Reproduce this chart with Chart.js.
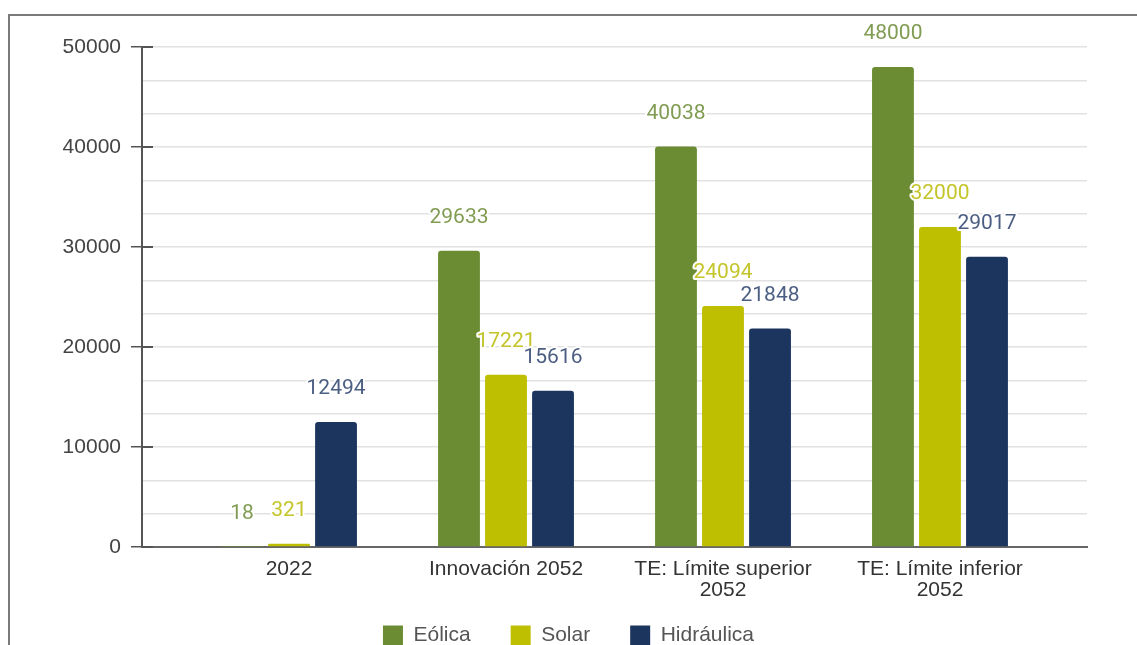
<!DOCTYPE html>
<html>
<head>
<meta charset="utf-8">
<script src="https://cdn.jsdelivr.net/npm/chart.js@4.4.1/dist/chart.umd.min.js"></script>
<style>
html, body { margin: 0; padding: 0; background: #fff; overflow: hidden; width: 1137px; height: 645px; }
#marco { position: absolute; left: 8px; top: 14px; width: 1200px; height: 700px; border-top: 2px solid #7a7a7a; border-left: 2px solid #7a7a7a; }
#grafico { position: absolute; left: 50px; top: 16px; }
</style>
</head>
<body>
<div id="marco"></div>
<canvas id="grafico" width="1087" height="664"></canvas>
<script>
// datos
const categorias = ['2022', 'Innovación 2052', ['TE: Límite superior', '2052'], ['TE: Límite inferior', '2052']];
const eolica = [18, 29633, 40038, 48000];
const solar = [321, 17221, 24094, 32000];
const hidraulica = [12494, 15616, 21848, 29017];
const ticksY = [0, 10000, 20000, 30000, 40000, 50000];

const fuente = { family: '"Liberation Sans", Arial, sans-serif', size: 21 };

// etiquetas de valor encima de cada barra
const etiquetasPlugin = {
    id: 'etiquetas',
    afterLayout(chart) {
        // sube la leyenda para que quede pegada a las etiquetas del eje X
        chart.legend.top -= 24;
        chart.legend.bottom -= 24;
    },
    afterDatasetsDraw(chart) {
        const ctx = chart.ctx;
        ctx.save();
        ctx.font = '21px Roboto';
        ctx.textAlign = 'center';
        ctx.textBaseline = 'middle';
        ctx.lineJoin = 'round';
        chart.data.datasets.forEach((ds, i) => {
            chart.getDatasetMeta(i).data.forEach((barra, j) => {
                const txt = String(ds.data[j]);
                const y = barra.y - 33;
                ctx.strokeStyle = '#fff';
                ctx.lineWidth = 4;
                ctx.strokeText(txt, barra.x, y);
                ctx.fillStyle = ds.colorEtiqueta;
                ctx.fillText(txt, barra.x, y);
            });
        });
        // marcas del eje Y que cruzan hacia dentro
        const ejeY = chart.scales.y;
        ctx.strokeStyle = '#555';
        ctx.lineWidth = 2;
        ticksY.forEach(v => {
            const py = ejeY.getPixelForValue(v);
            ctx.beginPath();
            ctx.moveTo(ejeY.right, py);
            ctx.lineTo(ejeY.right + 11, py);
            ctx.stroke();
        });
        ctx.restore();
    }
};

new Chart(document.getElementById('grafico'), {
    type: 'bar',
    data: {
        labels: categorias,
        datasets: [
            { label: 'Eólica', data: eolica, backgroundColor: '#6b8c32', colorEtiqueta: '#809c52' },
            { label: 'Solar', data: solar, backgroundColor: '#bdbf00', colorEtiqueta: '#c4c52a' },
            { label: 'Hidráulica', data: hidraulica, backgroundColor: '#1b355e', colorEtiqueta: '#4b5e82' }
        ]
    },
    options: {
        responsive: false,
        animation: false,
        layout: { padding: { top: 31, right: 50, left: 0, bottom: 0 } },
        datasets: {
            bar: { categoryPercentage: 0.65, barPercentage: 0.89, borderRadius: 3 }
        },
        plugins: {
            legend: {
                position: 'bottom',
                labels: { boxWidth: 20, boxHeight: 20, padding: 40, color: '#555', font: fuente }
            },
            tooltip: { enabled: false }
        },
        scales: {
            x: {
                grid: { display: false, drawTicks: false },
                border: { color: '#666', width: 2 },
                ticks: { color: '#333', padding: 12, maxRotation: 0, autoSkip: false, font: { ...fuente, lineHeight: 1 } },
                // deja margen a ambos lados como en el original
                afterBuildTicks: s => { s._startValue = -0.6775; s._valueRange = 4.355; },
                afterFit: s => { s.height = 62; }
            },
            y: {
                min: 0,
                max: 50000,
                ticks: {
                    stepSize: 10000 / 3,
                    color: '#444',
                    padding: 10,
                    font: fuente,
                    callback: v => ticksY.includes(Math.round(v)) ? Math.round(v) : ''
                },
                grid: {
                    color: '#e2e2e2',
                    lineWidth: 1.5,
                    tickLength: 11,
                    tickColor: c => c.tick && ticksY.includes(Math.round(c.tick.value)) ? '#555' : 'rgba(0,0,0,0)'
                },
                border: { color: '#555', width: 2 },
                afterFit: s => { s.width = 92; }
            }
        }
    },
    plugins: [etiquetasPlugin]
});
</script>
</body>
</html>
